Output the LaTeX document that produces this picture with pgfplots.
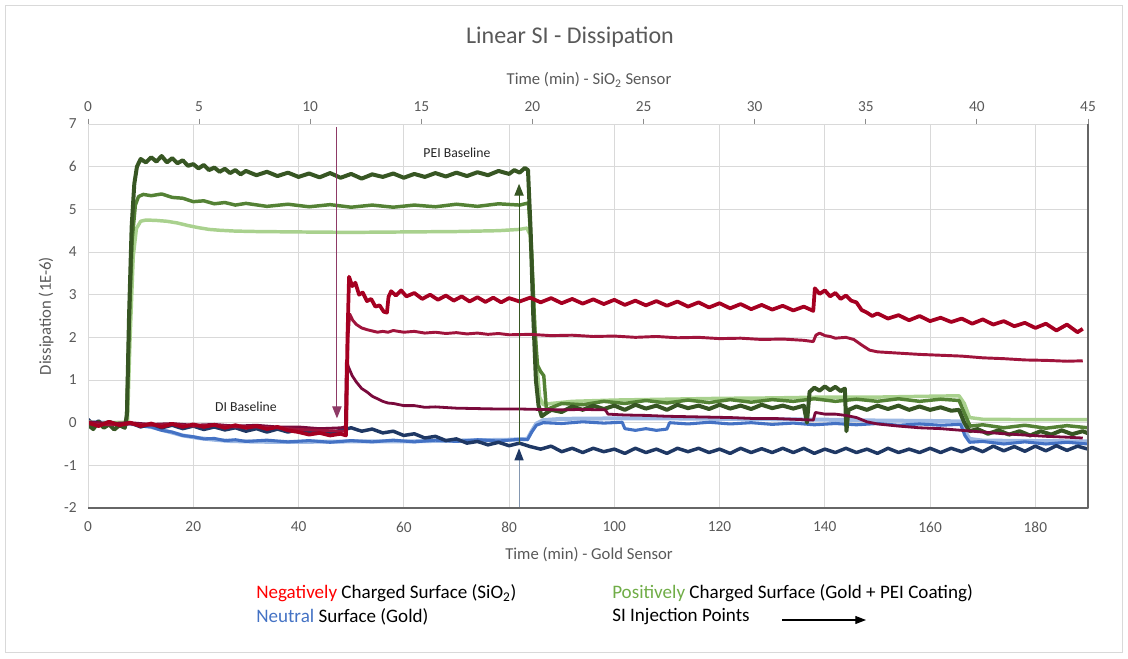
\documentclass[border=0pt]{standalone}
\usepackage{fontspec}
\setmainfont{Carlito}
\usepackage{pgfplots}
\pgfplotsset{compat=1.18}
\usetikzlibrary{arrows.meta}
\definecolor{dg}{HTML}{375623}
\definecolor{mg}{HTML}{548235}
\definecolor{lg}{HTML}{A9D18E}
\definecolor{ra}{HTML}{A50021}
\definecolor{rb}{HTML}{A0143C}
\definecolor{rc}{HTML}{7A0A3C}
\definecolor{lb}{HTML}{9DB9E4}
\definecolor{mb}{HTML}{4472C4}
\definecolor{nb}{HTML}{1F3864}
\definecolor{txt}{HTML}{595959}
\definecolor{gridc}{HTML}{D9D9D9}
\definecolor{bluearrow}{HTML}{8497B0}
\definecolor{mauve}{HTML}{8E3A66}
\begin{document}
\begin{tikzpicture}
\path[use as bounding box] (0pt,0pt) rectangle (846pt,493.5pt);
\draw[gridc, line width=0.75pt] (3.75pt,4.5pt) rectangle (841.5pt,489pt);
\begin{axis}[
  at={(66pt,112.5pt)}, anchor=south west, scale only axis,
  width=750pt, height=288pt,
  xmin=0, xmax=190, ymin=-2, ymax=7,
  xtick={0,20,...,180}, ytick={-2,-1,...,7},
  grid=major, major grid style={gridc, line width=0.75pt},
  axis line style={draw=none},
  major tick length=0pt,
  tick label style={font=\fontsize{11.5pt}{13pt}\selectfont, text=txt},
  /pgf/number format/assume math mode=true,
  xticklabel style={yshift=-7pt},
  yticklabel style={xshift=-5pt},
  clip mode=individual,
  line join=round,
]
\addplot[lb, line width=3pt] coordinates {(0,0.02)(3,0.0)(6,-0.01)(9,-0.04)(12,-0.1)(15,-0.2)(18,-0.3)(21,-0.36)(24,-0.4)(27,-0.43)(30,-0.44)(35,-0.45)(40,-0.45)(50,-0.44)(60,-0.44)(70,-0.42)(80,-0.4)(83.5,-0.38)(84.3,-0.2)(85.2,-0.02)(86.5,0.06)(90,0.09)(100,0.1)(110,0.1)(120,0.09)(130,0.08)(140,0.07)(150,0.05)(160,0.04)(165.8,0.03)(166.6,-0.2)(167.5,-0.38)(170,-0.42)(180,-0.43)(190,-0.44)};
\addplot[mb, line width=2.3pt] coordinates {(0,0.0)(2,-0.05)(4,0.02)(6,-0.04)(8,-0.02)(10,-0.08)(12,-0.1)(14,-0.18)(16,-0.22)(18,-0.3)(20,-0.33)(22,-0.38)(24,-0.37)(26,-0.42)(28,-0.4)(30,-0.44)(34,-0.41)(38,-0.45)(42,-0.42)(46,-0.46)(50,-0.42)(54,-0.45)(58,-0.41)(62,-0.45)(66,-0.41)(70,-0.44)(74,-0.4)(78,-0.43)(82,-0.39)(83.5,-0.4)(84.3,-0.22)(85.2,-0.06)(86.5,0.0)(90,-0.02)(94,0.02)(98,-0.01)(101.5,0.01)(102,-0.14)(104,-0.18)(106,-0.14)(108,-0.18)(110,-0.15)(110.5,0.0)(114,-0.03)(118,0.01)(122,-0.03)(126,0.0)(130,-0.04)(134,-0.01)(138,-0.05)(142,-0.02)(146,-0.05)(150,-0.02)(154,-0.06)(158,-0.03)(162,-0.06)(165.8,-0.04)(166.6,-0.3)(167.5,-0.46)(170,-0.44)(174,-0.5)(178,-0.45)(182,-0.5)(186,-0.46)(190,-0.5)};
\addplot[nb, line width=2.6pt] coordinates {(0,0.08)(1,-0.05)(2,0.04)(3,-0.06)(4,0.02)(6,-0.08)(8,0.0)(10,-0.1)(12,-0.03)(14,-0.12)(16,-0.06)(18,-0.14)(20,-0.08)(22,-0.16)(24,-0.1)(26,-0.17)(28,-0.12)(30,-0.2)(32,-0.14)(34,-0.22)(36,-0.15)(38,-0.22)(40,-0.16)(42,-0.24)(44,-0.17)(46,-0.24)(48,-0.18)(50,-0.12)(52,-0.2)(54,-0.15)(56,-0.24)(58,-0.2)(60,-0.3)(62,-0.26)(64,-0.36)(66,-0.32)(68,-0.42)(70,-0.38)(72,-0.48)(74,-0.44)(76,-0.52)(78,-0.46)(80,-0.54)(82,-0.48)(84,-0.56)(86,-0.62)(88,-0.55)(90,-0.68)(92,-0.6)(94,-0.7)(96,-0.6)(98,-0.68)(100,-0.62)(102,-0.72)(104,-0.6)(106,-0.7)(108,-0.62)(110,-0.72)(112,-0.6)(114,-0.68)(116,-0.6)(118,-0.7)(120,-0.62)(122,-0.72)(124,-0.6)(126,-0.7)(128,-0.61)(130,-0.7)(132,-0.6)(134,-0.7)(136,-0.6)(138,-0.72)(140,-0.62)(142,-0.7)(144,-0.6)(146,-0.7)(148,-0.62)(150,-0.72)(152,-0.6)(154,-0.7)(156,-0.62)(158,-0.7)(160,-0.6)(162,-0.7)(164,-0.6)(166,-0.68)(168,-0.58)(170,-0.68)(172,-0.55)(174,-0.66)(176,-0.56)(178,-0.67)(180,-0.55)(182,-0.66)(184,-0.54)(186,-0.65)(188,-0.55)(190,-0.62)};
\addplot[lg, line width=2.6pt] coordinates {(0,0.02)(3,-0.02)(6,0.01)(7.5,0.0)(8.0,2.0)(8.6,3.9)(9.2,4.55)(10,4.72)(11,4.75)(13,4.74)(15,4.72)(17,4.68)(19,4.62)(21,4.57)(23,4.53)(25,4.51)(28,4.49)(32,4.48)(40,4.47)(50,4.46)(60,4.47)(70,4.48)(78,4.5)(82,4.53)(83.4,4.56)(84,4.4)(84.6,3.0)(85.2,1.5)(85.8,0.6)(86.5,0.42)(88,0.45)(92,0.5)(100,0.53)(110,0.55)(120,0.57)(130,0.58)(140,0.6)(150,0.6)(160,0.62)(165.5,0.63)(166.5,0.45)(167.5,0.12)(170,0.08)(180,0.07)(190,0.07)};
\addplot[mg, line width=2.6pt] coordinates {(0,0)(2,-0.06)(4,0.02)(6,-0.04)(7.3,0)(7.8,2.2)(8.4,4.3)(9,5.1)(9.6,5.3)(10.5,5.35)(12,5.32)(14,5.36)(16,5.28)(18,5.26)(20,5.18)(22,5.2)(24,5.13)(26,5.16)(28,5.1)(30,5.14)(34,5.07)(38,5.12)(42,5.06)(46,5.11)(50,5.05)(54,5.1)(58,5.05)(62,5.1)(66,5.06)(70,5.12)(74,5.07)(78,5.13)(82,5.1)(83.7,5.15)(84.3,4.0)(84.9,2.2)(85.4,1.35)(86,1.2)(86.6,1.1)(87.1,0.3)(88,0.35)(90,0.45)(94,0.42)(98,0.5)(102,0.45)(106,0.52)(110,0.46)(114,0.53)(118,0.47)(122,0.54)(126,0.48)(130,0.54)(134,0.5)(138,0.56)(142,0.5)(146,0.55)(150,0.5)(154,0.56)(158,0.5)(162,0.55)(165.5,0.52)(166.6,0.2)(167.6,-0.08)(170,-0.05)(174,-0.12)(178,-0.06)(182,-0.13)(186,-0.07)(190,-0.12)};
\addplot[dg, line width=3pt] coordinates {(0,-0.05)(1,-0.15)(2,0.02)(3,-0.12)(4,-0.04)(5,-0.16)(6,-0.06)(7,-0.12)(7.4,0.2)(7.8,2.5)(8.3,4.6)(8.8,5.6)(9.3,6.0)(10,6.18)(11,6.1)(12,6.22)(13,6.12)(14,6.25)(15,6.1)(16,6.2)(17,6.08)(18,6.15)(19,6.02)(20,6.06)(21,5.96)(22,6.04)(23,5.92)(24,5.98)(25,5.88)(26,5.95)(27,5.85)(28,5.92)(29,5.82)(30,5.9)(32,5.8)(34,5.88)(36,5.78)(38,5.86)(40,5.76)(42,5.84)(44,5.75)(46,5.85)(48,5.74)(50,5.83)(52,5.72)(54,5.82)(56,5.76)(58,5.84)(60,5.74)(62,5.83)(64,5.76)(66,5.85)(68,5.77)(70,5.86)(72,5.78)(74,5.87)(76,5.8)(78,5.9)(80,5.83)(81,5.92)(82,5.86)(83,5.97)(83.6,5.92)(84.1,4.5)(84.6,2.5)(85.1,1.0)(85.6,0.4)(86.2,0.15)(87,0.22)(88,0.3)(90,0.25)(92,0.38)(94,0.3)(96,0.4)(98,0.32)(100,0.4)(102,0.3)(104,0.42)(106,0.33)(108,0.4)(110,0.3)(112,0.42)(114,0.34)(116,0.4)(118,0.32)(120,0.42)(122,0.33)(124,0.4)(126,0.32)(128,0.42)(130,0.34)(132,0.4)(134,0.33)(136,0.4)(136.6,0.0)(137.1,0.72)(138,0.82)(139,0.75)(140,0.85)(141,0.76)(142,0.84)(143,0.74)(143.8,0.8)(144.1,-0.2)(144.5,0.3)(146,0.38)(148,0.3)(150,0.4)(152,0.32)(154,0.4)(156,0.3)(158,0.38)(160,0.3)(162,0.36)(164,0.28)(165.5,0.3)(166.5,0.0)(167.5,-0.2)(169,-0.15)(171,-0.26)(173,-0.18)(175,-0.28)(177,-0.2)(179,-0.3)(181,-0.2)(183,-0.28)(185,-0.18)(187,-0.27)(189,-0.2)(190,-0.25)};
\addplot[rc, line width=2.1pt] coordinates {(0,0.02)(4,-0.02)(8,0.0)(12,-0.04)(16,-0.02)(20,-0.06)(24,-0.04)(28,-0.08)(32,-0.06)(36,-0.1)(40,-0.1)(44,-0.14)(48,-0.12)(48.9,-0.1)(49.1,1.45)(49.5,1.3)(50.2,1.1)(51,0.95)(52,0.8)(53,0.72)(54,0.62)(55,0.56)(56,0.5)(57,0.46)(58,0.45)(60,0.4)(62,0.4)(64,0.36)(66,0.37)(70,0.34)(74,0.33)(78,0.32)(82,0.32)(86,0.31)(90,0.3)(94,0.31)(98.3,0.3)(98.8,0.2)(102,0.18)(106,0.17)(110,0.15)(114,0.14)(118,0.13)(122,0.12)(126,0.1)(130,0.1)(134,0.08)(137.8,0.06)(138.2,0.24)(140,0.2)(142,0.2)(144,0.17)(146,0.12)(148,0.02)(150,-0.03)(154,-0.08)(158,-0.12)(162,-0.14)(166,-0.18)(170,-0.22)(174,-0.26)(178,-0.29)(182,-0.32)(186,-0.34)(189,-0.36)};
\addplot[rb, line width=2.2pt] coordinates {(0,-0.02)(4,-0.05)(8,-0.03)(12,-0.06)(16,-0.04)(20,-0.08)(24,-0.06)(28,-0.1)(32,-0.1)(36,-0.12)(40,-0.16)(44,-0.18)(48,-0.2)(49.1,-0.2)(49.4,2.0)(49.7,2.55)(50.3,2.4)(51,2.3)(52,2.22)(53,2.18)(54,2.15)(55,2.12)(56,2.14)(57,2.12)(58,2.16)(60,2.12)(62,2.14)(64,2.1)(66,2.12)(68,2.09)(70,2.11)(72,2.08)(74,2.1)(76,2.07)(78,2.09)(80,2.06)(84,2.07)(88,2.04)(92,2.05)(96,2.02)(100,2.03)(104,2.0)(108,2.02)(112,1.99)(116,2.0)(120,1.97)(124,1.98)(128,1.95)(132,1.96)(136,1.93)(137.8,1.9)(138.3,2.05)(139,2.1)(140,2.04)(141,2.02)(142,1.98)(144,2.0)(145.5,1.95)(147,1.82)(148.5,1.7)(150,1.66)(154,1.63)(158,1.6)(162,1.58)(166,1.56)(170,1.52)(174,1.5)(178,1.47)(182,1.46)(186,1.44)(189,1.45)};
\addplot[ra, line width=2.8pt] coordinates {(0,0.0)(2,-0.08)(4,0.02)(6,-0.06)(8,0.0)(10,-0.08)(12,-0.02)(14,-0.1)(16,-0.03)(18,-0.1)(20,-0.04)(22,-0.1)(24,-0.05)(26,-0.12)(28,-0.06)(30,-0.12)(32,-0.08)(34,-0.15)(36,-0.1)(38,-0.18)(40,-0.22)(42,-0.28)(44,-0.24)(46,-0.3)(48,-0.26)(49,-0.3)(49.3,2.0)(49.6,3.42)(50.2,3.2)(50.8,3.28)(51.5,3.0)(52.2,3.05)(53,2.85)(53.8,2.9)(54.6,2.72)(55.4,2.75)(56.2,2.6)(56.8,2.58)(57.1,2.95)(57.6,3.08)(58.5,2.98)(59.5,3.1)(60.5,2.96)(62,3.04)(63.5,2.9)(65,3.0)(66.5,2.88)(68,2.98)(69.5,2.86)(71,2.96)(72.5,2.84)(74,2.94)(75.5,2.83)(77,2.93)(78.5,2.82)(80,2.92)(82,2.84)(84,2.93)(86,2.82)(88,2.92)(90,2.8)(92,2.9)(94,2.79)(96,2.89)(98,2.78)(100,2.88)(102,2.76)(104,2.86)(106,2.75)(108,2.85)(110,2.74)(112,2.84)(114,2.72)(116,2.82)(118,2.7)(120,2.8)(122,2.68)(124,2.78)(126,2.66)(128,2.76)(130,2.65)(132,2.74)(134,2.63)(136,2.72)(137.8,2.62)(138.1,3.15)(139,3.02)(140,3.1)(141,2.96)(142,3.04)(143,2.9)(144,2.98)(145,2.86)(146,2.82)(147,2.64)(148,2.58)(149,2.5)(150,2.56)(152,2.44)(154,2.52)(156,2.4)(158,2.5)(160,2.38)(162,2.46)(164,2.36)(166,2.44)(168,2.32)(170,2.42)(172,2.3)(174,2.38)(176,2.26)(178,2.34)(180,2.22)(182,2.32)(184,2.16)(186,2.3)(188,2.12)(189,2.2)};
% annotations
\draw[mauve, line width=0.8pt, -{Triangle[width=7pt,length=9pt]}] (axis cs:47.3,6.93) -- (axis cs:47.3,0.1);
\draw[dg, line width=0.8pt, -{Triangle[width=7pt,length=9pt]}] (axis cs:81.9,-0.5) -- (axis cs:81.9,5.6);
\draw[bluearrow, line width=0.8pt] (axis cs:81.9,-2) -- (axis cs:81.9,-0.8);
\fill[nb] (axis cs:81.9,-0.6) -- ++(-3.5pt,-9pt) -- ++(7pt,0pt) -- cycle;
\node[font=\fontsize{10.3pt}{12pt}\selectfont, text=black!85] at (axis cs:70.1,6.32) {PEI Baseline};
\node[font=\fontsize{10.3pt}{12pt}\selectfont, text=black!85] at (axis cs:30,0.37) {DI Baseline};
% frame
\draw[gridc, line width=0.75pt] (axis cs:0,-2) -- (axis cs:0,7) -- (axis cs:190,7);
\draw[black!60, line width=0.9pt] (axis cs:0,-2) -- (axis cs:190,-2) -- (axis cs:190,7);
\end{axis}
\begin{axis}[
  at={(66pt,112.5pt)}, anchor=south west, scale only axis,
  width=750pt, height=288pt,
  xmin=0, xmax=45, ymin=-2, ymax=7,
  axis x line*=top, hide y axis,
  x axis line style={draw=none},
  xtick={0,5,...,45},
  major tick length=4pt, tick align=outside,
  major tick style={black!45, line width=0.75pt},
  tick label style={font=\fontsize{11.5pt}{13pt}\selectfont, text=txt},
  xticklabel style={yshift=2pt},
  /pgf/number format/assume math mode=true,
]
\addplot[draw=none] coordinates {(0,0)(45,0)};
\end{axis}
\node[font=\fontsize{18pt}{21pt}\selectfont, text=txt] at (427.5pt,465.75pt) {Linear SI - Dissipation};
\node[font=\fontsize{12.5pt}{14pt}\selectfont, text=txt] at (441.75pt,433.5pt) {Time (min) - SiO\textsubscript{2} Sensor};
\node[font=\fontsize{12.5pt}{14pt}\selectfont, text=txt] at (441.75pt,77.25pt) {Time (min) - Gold Sensor};
\node[font=\fontsize{12.5pt}{14pt}\selectfont, text=txt, rotate=90] at (34.5pt,256.5pt) {Dissipation (1E-6)};
\node[anchor=west, font=\fontsize{14.3pt}{16pt}\selectfont, inner sep=0pt] at (192pt,48.75pt) {\textcolor[HTML]{FF0000}{Negatively} Charged Surface (SiO\textsubscript{2})};
\node[anchor=west, font=\fontsize{14.3pt}{16pt}\selectfont, inner sep=0pt] at (192pt,30.75pt) {\textcolor[HTML]{4472C4}{Neutral} Surface (Gold)};
\node[anchor=west, font=\fontsize{14.3pt}{16pt}\selectfont, inner sep=0pt] at (459pt,48.75pt) {\textcolor[HTML]{70AD47}{Positively} Charged Surface (Gold + PEI Coating)};
\node[anchor=west, font=\fontsize{14.3pt}{16pt}\selectfont, inner sep=0pt] at (459pt,30.75pt) {SI Injection Points};
\draw[black, line width=0.8pt, -{Triangle[width=6pt,length=8pt]}] (586.5pt,28.5pt) -- (649.5pt,28.5pt);
\end{tikzpicture}
\end{document}
